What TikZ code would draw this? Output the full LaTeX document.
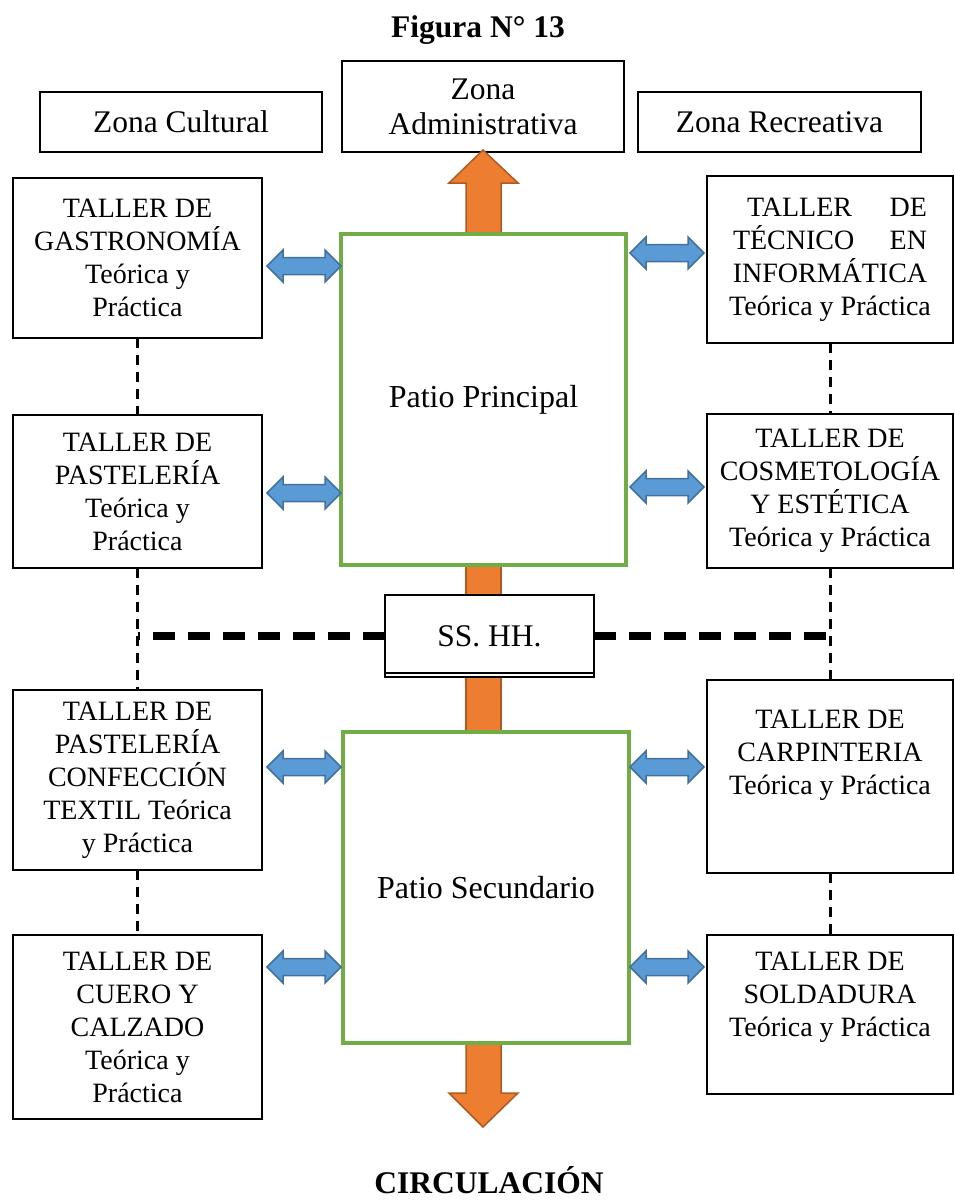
\documentclass[tikz,border=0pt]{standalone}
\usepackage{fontspec}
\setmainfont{Liberation Serif}
\definecolor{pgreen}{HTML}{70AD47}
\definecolor{pblue}{HTML}{5B9BD5}
\definecolor{pbluedark}{HTML}{41719C}
\definecolor{porange}{HTML}{ED7D31}
\definecolor{porangedark}{HTML}{AE5A21}
\tikzset{dblarr/.pic={\path[fill=pblue, draw=pbluedark, line width=1.5pt, line join=miter]
  (-37,0) -- (-21,-16) -- (-21,-8.5) -- (21,-8.5) -- (21,-16) -- (37,0) -- (21,16) -- (21,8.5) -- (-21,8.5) -- (-21,16) -- cycle;}}
\begin{document}
\begin{tikzpicture}[x=1pt,y=-1pt,
 box/.style={draw=black, line width=1.3pt, fill=white, rectangle, inner sep=0pt, outer sep=0pt, align=center, font=\fontsize{28}{33}\selectfont},
 zone/.style={box, font=\fontsize{31.5}{35}\selectfont},
 patio/.style={draw=pgreen, line width=4pt, fill=white, rectangle, inner sep=0pt, outer sep=0pt, font=\fontsize{32}{35}\selectfont},
 ttl/.style={font=\fontsize{31.5}{35}\selectfont\bfseries, inner sep=0pt},
 thindash/.style={line width=3pt, dash pattern=on 10pt off 7pt},
 thickdash/.style={line width=8.5pt, dash pattern=on 22pt off 13pt},
 oarr/.style={fill=porange, draw=porangedark, line width=1.5pt, line join=miter},
]
\useasboundingbox (0,0) rectangle (955,1202);

% title
\node[ttl] (title) at (478,30) {Figura N° 13};

% zone boxes
\node[zone, minimum width=282, minimum height=60] (zc) at (181,122) {Zona Cultural};
\node[zone, minimum width=282, minimum height=91] (za) at (483,106.5) {Zona\\Administrativa};
\node[zone, minimum width=283, minimum height=60] (zr) at (779.5,122) {Zona Recreativa};

% orange arrows (behind patios)
\path[oarr] (466,236) -- (466,183) -- (449,183) -- (483,150) -- (518,183) -- (501,183) -- (501,236) -- cycle;
\path[oarr] (466,563) rectangle (501,734);
\path[oarr] (466,1041) -- (466,1093) -- (449,1093) -- (483,1127) -- (518,1093) -- (501,1093) -- (501,1041) -- cycle;

% patios
\node[patio, minimum width=285, minimum height=331] (p1) at (483.5,399.5) {Patio Principal};
\node[patio, minimum width=286, minimum height=311] (p2) at (486,887.5) {Patio Secundario};

% left workshops
\node[box, minimum width=249, minimum height=160] (l1) at (137.5,258) {TALLER DE\\GASTRONOMÍA\\Teórica y\\Práctica};
\node[box, minimum width=249, minimum height=153] (l2) at (137.5,491.5) {TALLER DE\\PASTELERÍA\\Teórica y\\Práctica};
\node[box, minimum width=249, minimum height=180] (l3) at (137.5,780) {TALLER DE\\PASTELERÍA\\CONFECCIÓN\\TEXTIL Teórica\\y Práctica};
\node[box, minimum width=249, minimum height=184] (l4) at (137.5,1027) {TALLER DE\\CUERO Y\\CALZADO\\Teórica y\\Práctica};

% right workshops
\node[box, minimum width=246, minimum height=167] (r1) at (830,259.5)
 {\makebox[194pt]{\hspace{14pt}TALLER\hfill DE}\\\makebox[194pt]{TÉCNICO\hfill EN}\\INFORMÁTICA\\Teórica y Práctica};
\node[box, minimum width=246, minimum height=154] (r2) at (830,491) {TALLER DE\\COSMETOLOGÍA\\Y ESTÉTICA\\Teórica y Práctica};
\node[box, minimum width=246, minimum height=193] (r3) at (830,776.5) {};
\node[box, draw=none, fill=none, anchor=north, yshift=-30pt] (r3t) at (r3.north) {TALLER DE\\CARPINTERIA\\Teórica y Práctica};
\node[box, minimum width=246, minimum height=159] (r4) at (830,1014.5) {};
\node[box, draw=none, fill=none, anchor=north, yshift=-17pt] (r4t) at (r4.north) {TALLER DE\\SOLDADURA\\Teórica y Práctica};

% SS.HH.
\node[box, minimum width=209, minimum height=82, font=\fontsize{31.5}{35}\selectfont] (ss) at (489.5,636) {SS. HH.};
\draw[line width=1.3pt] (ss.west |- 0,673) -- (ss.east |- 0,673);

% dashed links
\draw[thindash] (l1.south) -- (l2.north);
\draw[thindash] (l2.south) -- (l3.north);
\draw[thindash] (l3.south) -- (l4.north);
\draw[thindash] (r1.south) -- (r2.north);
\draw[thindash] (r2.south) -- (r3.north);
\draw[thindash] (r3.south) -- (r4.north);
\coordinate (jl) at (l2.south |- ss.west);
\coordinate (jr) at (r2.south |- ss.east);
\draw[thickdash] (ss.west) -- (jl);
\draw[thickdash] (ss.east) -- (jr);

% blue double arrows
\pic at (304,266) {dblarr};
\pic at (304,493) {dblarr};
\pic at (304,767) {dblarr};
\pic at (304,967) {dblarr};
\pic at (667,253) {dblarr};
\pic at (667,487) {dblarr};
\pic at (667,767) {dblarr};
\pic at (667,967) {dblarr};

% bottom label
\node[ttl] (circ) at (489,1180) {CIRCULACIÓN};
\end{tikzpicture}
\end{document}
